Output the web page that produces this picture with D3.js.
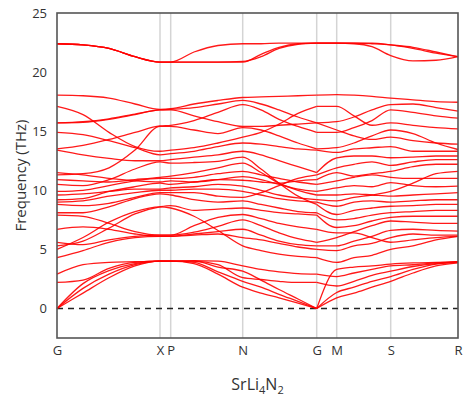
<!DOCTYPE html>
<html><head><meta charset="utf-8">
<script src="https://cdn.jsdelivr.net/npm/d3@7"></script>
<style>body{margin:0;background:#fff}svg{display:block}text{font-family:"Open Sans",sans-serif;fill:#333}</style>
</head><body><svg id="c" width="465" height="403"></svg>
<script>
// high-symmetry points (path distance) and labels
const kLabels = ["G","X","P","N","G","M","S","R"];
const kPos = [0, 103, 113.7, 185.7, 259.7, 279.7, 333.7, 401];
// sampled k positions along the path
const kSamples = [0, 26, 52, 78, 103, 113.7, 137, 161, 185.7, 204, 222, 241, 259.7, 279.7, 297, 315, 333.7, 356, 379, 401];
const yTicks = [0, 5, 10, 15, 20, 25];

// phonon branches (THz) at each sampled k
const t1  = [22.4,22.3,22.0,21.3,20.85,20.85,21.7,22.25,22.4,22.4,22.45,22.45,22.45,22.45,22.45,22.45,22.3,22.1,21.7,21.3];
const t2  = [22.4,22.3,22.0,21.3,20.85,20.85,20.85,20.85,20.85,21.5,22.1,22.4,22.45,22.45,22.45,22.4,22.3,22.0,21.6,21.3];
const t3  = [22.4,22.3,22.0,21.3,20.85,20.85,20.85,20.85,20.9,21.3,22.0,22.35,22.45,22.45,22.4,22.15,21.4,20.95,21.0,21.3];
const uA  = [18.05,18.0,17.8,17.3,16.85,16.9,17.3,17.6,17.85,17.9,17.95,18.0,18.05,18.1,18.05,17.95,17.8,17.65,17.5,17.45];
const uC1 = [15.7,15.8,16.05,16.45,16.8,16.85,17.0,17.3,17.6,17.3,16.8,16.2,15.7,15.8,16.2,16.8,17.25,17.3,17.0,16.7];
const uC2 = [15.7,15.75,16.0,16.4,16.8,16.8,16.3,15.8,15.4,15.4,15.5,15.6,15.7,15.1,14.6,14.3,14.5,14.2,14.0,13.9];
const uE  = [13.5,13.8,14.3,14.9,15.45,15.5,15.9,16.6,17.25,16.8,16.0,15.4,14.9,14.9,15.3,15.9,16.8,16.6,16.3,16.1];
const uB  = [17.1,16.4,14.9,13.7,13.3,13.4,13.6,14.0,14.5,14.9,15.6,16.5,17.1,17.1,16.3,15.5,15.7,15.5,15.3,15.2];
const uD  = [14.9,14.7,14.2,13.6,13.0,13.1,13.3,13.7,14.0,13.9,13.7,13.5,13.4,13.2,13.5,13.6,13.7,13.3,13.3,13.3];
const uF  = [11.3,11.4,11.9,13.4,15.4,15.4,15.1,14.8,15.3,15.1,14.6,14.0,13.5,13.6,14.0,14.6,15.1,14.8,14.0,13.45];
const uG  = [13.4,13.0,12.7,12.5,12.5,12.6,12.8,13.0,13.3,13.0,12.5,12.0,11.5,12.75,12.9,12.9,12.75,12.8,12.9,12.9];
const m1  = [4.3,4.9,5.6,6.0,6.1,6.1,6.2,6.3,6.0,5.8,5.5,5.2,5.0,4.9,5.3,5.5,6.0,6.3,6.2,6.2];
const m2  = [5.0,6.0,7.3,8.2,8.6,8.5,7.8,6.6,5.3,4.9,4.6,4.4,4.3,3.9,4.3,4.5,5.0,5.3,5.8,6.1];
const m3  = [5.3,5.7,6.8,8.0,8.6,8.7,8.3,8.4,8.5,8.3,8.1,8.0,7.9,6.85,7.0,7.4,7.7,7.8,7.8,7.8];
const m4  = [5.6,5.4,5.8,6.1,6.2,6.2,6.45,6.95,7.5,7.0,6.4,5.9,5.6,6.0,6.5,7.0,7.4,7.3,7.2,7.2];
const m5  = [6.7,6.9,6.7,6.3,6.1,6.1,6.3,6.5,6.7,6.2,5.7,5.4,5.3,5.3,5.7,6.1,6.6,6.7,6.6,6.55];
const m6  = [7.9,7.8,7.2,6.5,6.2,6.2,7.0,7.7,7.95,7.6,7.2,6.9,6.7,6.4,6.4,6.0,5.6,5.8,6.0,6.1];
const m7  = [8.1,8.1,8.6,9.3,9.7,9.6,9.2,9.0,9.1,8.8,8.5,8.2,8.1,7.5,7.6,7.9,8.1,8.2,8.3,8.3];
const m8  = [8.8,8.7,8.9,9.4,9.8,9.8,9.8,9.5,9.4,9.8,10.4,11.0,11.3,11.9,12.2,12.4,12.1,12.4,12.6,12.6];
const m9  = [9.0,9.1,9.5,9.8,10.0,10.0,10.1,10.1,9.9,9.6,9.3,9.1,9.0,8.65,9.0,9.1,9.0,9.1,9.2,9.2];
const m10 = [9.2,9.3,9.9,10.3,10.6,10.5,10.7,10.9,10.85,10.7,10.6,10.8,10.9,11.5,11.2,11.4,11.6,12.0,12.2,12.2];
const m11 = [9.6,9.7,9.9,10.1,10.1,10.2,10.3,10.5,10.35,10.0,9.6,9.35,9.2,9.1,9.4,9.6,9.9,10.6,11.4,11.6];
const m12 = [9.9,10.0,10.4,10.8,11.0,11.0,11.1,11.4,11.6,11.3,11.0,10.7,10.5,10.8,11.1,11.3,11.1,11.0,11.0,11.0];
const m13 = [10.5,10.4,10.9,11.8,12.4,12.3,12.35,12.45,12.8,11.8,10.6,9.5,8.8,7.95,8.3,8.5,8.65,8.7,8.8,8.8];
const m14 = [10.9,10.8,10.7,10.9,11.1,11.2,11.5,11.9,12.3,11.5,10.6,10.0,9.6,9.6,9.7,9.6,9.5,9.6,9.7,9.8];
const m15 = [11.5,11.3,11.0,10.8,10.7,10.8,10.7,10.9,11.15,10.9,10.5,10.1,9.9,10.2,10.4,10.3,10.65,10.4,10.3,10.35];
const ac1 = [0,1.3,2.6,3.6,4.0,4.0,3.8,2.9,1.8,1.3,0.9,0.45,0,0.9,1.3,1.8,2.3,3.0,3.6,3.85];
const ac2 = [0,1.7,2.9,3.7,4.0,4.0,3.9,3.1,2.3,1.8,1.2,0.6,0,1.35,1.8,2.3,2.7,3.3,3.75,3.9];
const ac3 = [0,2.1,3.2,3.8,4.0,4.0,4.0,3.5,3.15,2.4,1.6,0.8,0,3.3,3.5,3.6,3.75,3.85,3.9,3.95];
const o1  = [2.2,2.4,3.4,3.9,4.0,4.0,4.0,3.7,2.6,2.45,2.3,2.2,2.2,1.9,2.3,2.8,3.15,3.55,3.8,3.9];
const o2  = [2.9,3.7,3.9,3.95,4.0,4.0,4.05,4.0,3.6,3.3,3.1,2.95,2.9,2.7,3.0,3.3,3.6,3.7,3.85,3.95];

const bands = [t1,t2,t3,uA,uC1,uC2,uE,uB,uD,uF,uG,m1,m2,m3,m4,m5,m6,m7,m8,m9,m10,m11,m12,m13,m14,m15,ac1,ac2,ac3,o1,o2];

const svg = d3.select("#c");
const L = 57, R = 458, T = 13, B = 338;
const x = d3.scaleLinear().domain([0, 401]).range([L, R]);
const y = d3.scaleLinear().domain([-2.5, 25]).range([B, T]);

// vertical high-symmetry lines
svg.append("g").selectAll("line").data(kPos.slice(1, -1)).join("line")
  .attr("x1", d => x(d)).attr("x2", d => x(d)).attr("y1", T).attr("y2", B)
  .attr("stroke", "#d4d4d4").attr("stroke-width", 1.5);

// zero line
svg.append("line").attr("x1", L).attr("x2", R).attr("y1", y(0)).attr("y2", y(0))
  .attr("stroke", "#222").attr("stroke-width", 1.4).attr("stroke-dasharray", "6,5");

// bands (split at the second Gamma point for the cusp)
const splitIdx = kSamples.indexOf(259.7);
const line = d3.line().x(d => x(d[0])).y(d => y(d[1])).curve(d3.curveMonotoneX);
const g = svg.append("g").attr("fill", "none").attr("stroke", "#ff0000").attr("stroke-width", 1.3).attr("stroke-opacity", 0.9);
bands.forEach(b => {
  const pts = kSamples.map((k, i) => [k, b[i]]);
  g.append("path").attr("d", line(pts.slice(0, splitIdx + 1)));
  g.append("path").attr("d", line(pts.slice(splitIdx)));
});

// frame
svg.append("rect").attr("x", L).attr("y", T).attr("width", R - L).attr("height", B - T)
  .attr("fill", "none").attr("stroke", "#555").attr("stroke-width", 1.6);

// y axis labels
const yAxis = d3.axisLeft(y).tickValues(yTicks).tickSize(0).tickPadding(10);
const ya = svg.append("g").attr("transform", `translate(${L},0)`).call(yAxis);
ya.select(".domain").remove();
ya.selectAll("text").attr("font-size", 13).attr("fill", "#333").style("font-family", "'Open Sans',sans-serif");

// x axis labels
const xAxis = d3.axisBottom(x).tickValues(kPos).tickFormat((d, i) => kLabels[i]).tickSize(0).tickPadding(8);
const xa = svg.append("g").attr("transform", `translate(0,${B})`).call(xAxis);
xa.select(".domain").remove();
xa.selectAll("text").attr("font-size", 13).attr("fill", "#333").style("font-family", "'Open Sans',sans-serif");

// axis titles
svg.append("text").attr("transform", `translate(22,${(T + B) / 2}) rotate(-90)`)
  .attr("text-anchor", "middle").attr("dominant-baseline", "middle").attr("font-size", 15).text("Frequency (THz)");

const t = svg.append("text").attr("x", (L + R) / 2).attr("y", 390).attr("text-anchor", "middle").attr("font-size", 16);
t.append("tspan").text("SrLi");
t.append("tspan").attr("font-size", 11).attr("dy", 4).text("4");
t.append("tspan").attr("dy", -4).text("N");
t.append("tspan").attr("font-size", 11).attr("dy", 4).text("2");
</script></body></html>
